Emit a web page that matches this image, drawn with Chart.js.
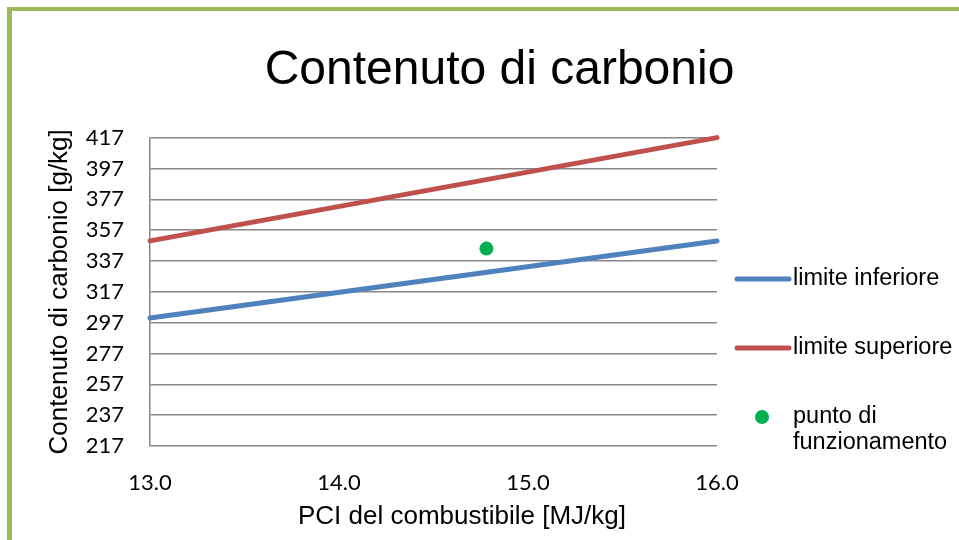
<!DOCTYPE html>
<html lang="it">
<head>
<meta charset="utf-8">
<title>Contenuto di carbonio</title>
<script src="https://cdn.jsdelivr.net/npm/chart.js@4.4.1/dist/chart.umd.min.js"></script>
<style>
  html, body { margin: 0; padding: 0; background: #fff; overflow: hidden; }
  #wrap { position: relative; width: 959px; height: 540px; }
  #cornice {
    position: absolute; left: 7px; top: 7px; right: -20px; bottom: -20px;
    border-left: 5px solid #9bbb59; border-top: 4px solid #9bbb59;
    pointer-events: none;
  }
</style>
</head>
<body>
<div id="wrap">
  <canvas id="carbonioChart" width="959" height="540"></canvas>
  <div id="cornice"></div>
</div>
<script>
// Dati
const pciX = [13.0, 16.0];
const limiteInferiore = [300, 350];
const limiteSuperiore = [350, 417];
const puntoX = [14.78];
const puntoY = [345];

const xTicks = [13, 14, 15, 16];
const yTicks = [217, 237, 257, 277, 297, 317, 337, 357, 377, 397, 417];

const titolo = 'Contenuto di carbonio';
const titoloAsseX = 'PCI del combustibile [MJ/kg]';
const titoloAsseY = 'Contenuto di carbonio [g/kg]';

const FONT_ARIAL = '"Liberation Sans", Arial, sans-serif';
const FONT_TICK = 'Lato, "Open Sans", sans-serif';
const GRIGIO = '#878787';

// spezza il testo su più righe se supera la larghezza
function aCapo(ctx, testo, maxW) {
    const parole = testo.split(' ');
    const righe = [];
    let riga = '';
    parole.forEach(p => {
        const prova = riga ? riga + ' ' + p : p;
        if (riga && ctx.measureText(prova).width > maxW) {
            righe.push(riga);
            riga = p;
        } else {
            riga = prova;
        }
    });
    if (riga) righe.push(riga);
    return righe;
}

// Legenda a destra e titolo dell'asse X
const legendaDestra = {
    id: 'legendaDestra',
    afterDraw(chart) {
        const ctx = chart.ctx;
        ctx.save();
        ctx.font = '23.5px ' + FONT_ARIAL;
        ctx.textBaseline = 'middle';
        ctx.textAlign = 'left';
        let y = 279;
        chart.data.datasets.forEach(ds => {
            const righe = aCapo(ctx, ds.label, 170);
            if (ds.showLine) {
                ctx.strokeStyle = ds.borderColor;
                ctx.lineWidth = 5;
                ctx.lineCap = 'round';
                ctx.beginPath();
                ctx.moveTo(737, y);
                ctx.lineTo(789, y);
                ctx.stroke();
            } else {
                ctx.fillStyle = ds.backgroundColor;
                ctx.beginPath();
                ctx.arc(762, y, 7, 0, Math.PI * 2);
                ctx.fill();
            }
            ctx.fillStyle = '#000';
            righe.forEach((t, k) => ctx.fillText(t, 793, y + k * 26));
            y += righe.length * 26 + 43;
        });

        ctx.font = '26px ' + FONT_ARIAL;
        ctx.textAlign = 'center';
        ctx.fillText(titoloAsseX, 462, 517);
        ctx.restore();
    }
};

const ctxCarbonio = document.getElementById('carbonioChart').getContext('2d');
const carbonioChart = new Chart(ctxCarbonio, {
    type: 'scatter',
    data: {
        datasets: [{
            label: 'limite inferiore',
            data: pciX.map((x, i) => ({ x: x, y: limiteInferiore[i] })),
            showLine: true,
            borderColor: '#4f81bd',
            backgroundColor: '#4f81bd',
            borderWidth: 5,
            borderCapStyle: 'round',
            pointRadius: 0,
            clip: false
        }, {
            label: 'limite superiore',
            data: pciX.map((x, i) => ({ x: x, y: limiteSuperiore[i] })),
            showLine: true,
            borderColor: '#c0504d',
            backgroundColor: '#c0504d',
            borderWidth: 5,
            borderCapStyle: 'round',
            pointRadius: 0,
            clip: false
        }, {
            label: 'punto di funzionamento',
            data: puntoX.map((x, i) => ({ x: x, y: puntoY[i] })),
            showLine: false,
            backgroundColor: '#00b050',
            borderColor: '#00b050',
            pointRadius: 7,
            pointBorderWidth: 0
        }]
    },
    options: {
        responsive: false,
        animation: false,
        layout: { padding: { left: 40, right: 0, top: 0, bottom: 0 } },
        plugins: {
            legend: { display: false },
            tooltip: { enabled: false },
            title: {
                display: true,
                text: titolo,
                color: '#000',
                font: { family: FONT_ARIAL, size: 48, weight: 'normal' },
                padding: { top: 42, bottom: 38 }
            }
        },
        scales: {
            x: {
                type: 'linear',
                min: 13,
                max: 16,
                afterBuildTicks: s => { s.ticks = xTicks.map(v => ({ value: v })); },
                afterFit: s => { s.height = 94; },
                grid: { display: false, drawTicks: false },
                border: { display: false },
                ticks: {
                    color: '#000',
                    padding: 24,
                    maxRotation: 0,
                    font: { family: FONT_TICK, size: 22 },
                    callback: v => v.toFixed(1)
                }
            },
            y: {
                min: 217,
                max: 417,
                afterBuildTicks: s => { s.ticks = yTicks.map(v => ({ value: v })); },
                afterFit: s => { s.width = 110; },
                grid: { color: GRIGIO, lineWidth: 1.5, drawTicks: false },
                border: { display: true, color: GRIGIO, width: 1.5 },
                ticks: {
                    color: '#000',
                    padding: 26,
                    font: { family: FONT_TICK, size: 22 }
                },
                title: {
                    display: true,
                    text: titoloAsseY,
                    color: '#000',
                    font: { family: FONT_ARIAL, size: 26 }
                }
            },
            // asse vuoto per lasciare lo spazio della legenda
            spazio: {
                position: 'right',
                display: true,
                afterFit: s => { s.width = 242; },
                grid: { display: false },
                border: { display: false },
                ticks: { display: false }
            }
        }
    },
    plugins: [legendaDestra]
});
</script>
</body>
</html>
